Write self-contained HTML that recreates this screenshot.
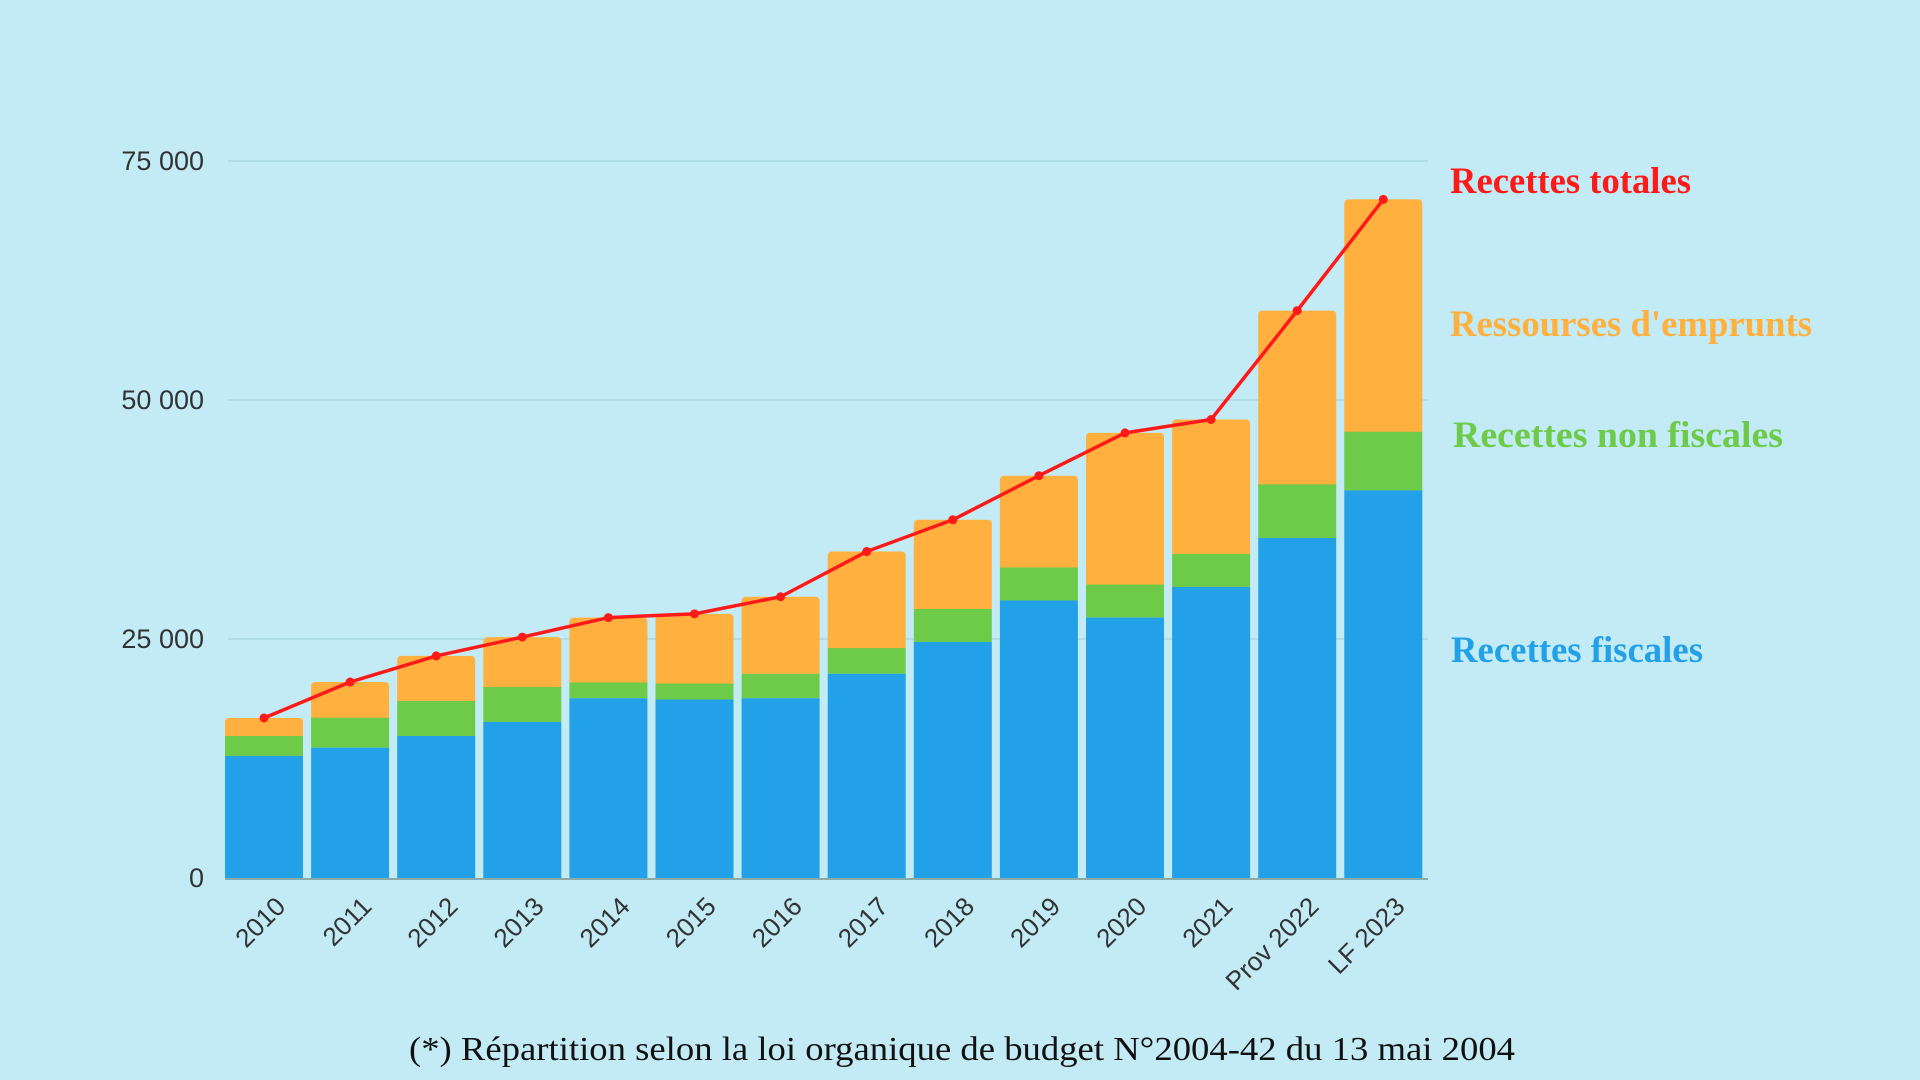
<!DOCTYPE html>
<html><head><meta charset="utf-8"><style>
html,body{margin:0;padding:0;background:#c2ebf5;}
svg{display:block;}
</style></head><body>
<svg id="chart" width="1920" height="1080" xmlns="http://www.w3.org/2000/svg">
<rect width="1920" height="1080" fill="#c2ebf5"/>
<g id="grid"></g>
<g id="bars"></g>
<g id="line"></g>
<g id="xlabels"></g>
<g id="ylabels"></g>
<g font-family="'Liberation Serif', serif" font-weight="bold" font-size="37">
<text x="1450" y="193" fill="#ff1a1a" textLength="241" lengthAdjust="spacingAndGlyphs">Recettes totales</text>
<text x="1450" y="336" fill="#ffb03f" textLength="362" lengthAdjust="spacingAndGlyphs">Ressourses d'emprunts</text>
<text x="1453" y="447" fill="#6ecb4a" textLength="330" lengthAdjust="spacingAndGlyphs">Recettes non  fiscales</text>
<text x="1451" y="662" fill="#22a0e8" textLength="252" lengthAdjust="spacingAndGlyphs">Recettes fiscales</text>
</g>
<text x="409" y="1060" font-family="'Liberation Serif', serif" font-size="34" fill="#111" textLength="1106" lengthAdjust="spacingAndGlyphs">(*) Répartition selon la loi organique de budget N°2004-42 du 13 mai 2004</text>
</svg>
<script>
const categories = ["2010","2011","2012","2013","2014","2015","2016","2017","2018","2019","2020","2021","Prov 2022","LF 2023"];
const fiscales = [12760,13630,14850,16320,18800,18670,18800,21360,24690,29030,27240,30440,35560,40540];
const nonFiscales = [2090,3140,3670,3660,1660,1670,2560,2690,3450,3460,3460,3450,5620,6140];
const emprunts = [1890,3730,4710,5220,6780,7290,8060,10100,9330,9590,15860,14070,18170,24300];
const totales = [16740,20500,23230,25200,27240,27630,29420,34150,37470,42080,46560,47960,59350,70980];
const yTicks = [0,25000,50000,75000];
const yTickLabels = ["0","25 000","50 000","75 000"];

const NS = "http://www.w3.org/2000/svg";
const y0 = 878, pxPer = 239/25000;
const left = 225, pitch = 86.1, bw = 78;
function yScale(v){ return y0 - v*pxPer; }
function xBand(i){ return left + i*pitch; }
function xCenter(i){ return xBand(i) + bw/2; }
function mk(tag, attrs, parent){ const e=document.createElementNS(NS,tag); for(const k in attrs) e.setAttribute(k,attrs[k]); parent.appendChild(e); return e; }

const grid=document.getElementById('grid');
yTicks.forEach((t,i)=>{
  if(i>0){
    const l=mk('line',{x1:228,x2:1428,y1:yScale(t),y2:yScale(t),stroke:'#a9d7e2','stroke-width':1.5},grid);
    
    
  }
  const tx=mk('text',{x:204,y:yScale(t)+9,'text-anchor':'end','font-family':"'Liberation Sans', sans-serif",'font-size':27,fill:'#333'},document.getElementById('ylabels'));
  tx.textContent=yTickLabels[i];
  
  
});
const ax=mk('line',{x1:225,x2:1428,y1:y0+1,y2:y0+1,stroke:'#8aa',"stroke-width":2},grid);



const bars=document.getElementById('bars');
categories.forEach((c,i)=>{
  const x=xBand(i);
  const yb=yScale(fiscales[i]), yg=yScale(fiscales[i]+nonFiscales[i]), yo=yScale(fiscales[i]+nonFiscales[i]+emprunts[i]);
  const o=mk('rect',{x:x,y:yo,width:bw,height:yg-yo+4,rx:4,fill:'#ffb03f'},bars);
  
  
  const g=mk('rect',{x:x,y:yg,width:bw,height:yb-yg,fill:'#6ecb4a'},bars);
  
  
  const b=mk('rect',{x:x,y:yb,width:bw,height:y0-yb,fill:'#22a0e8'},bars);
  
  
  const cx=xCenter(i)+23, cy=908;
  const t=mk('text',{x:cx,y:cy,'text-anchor':'end','font-family':"'Liberation Sans', sans-serif",'font-size':26,fill:'#333',transform:`rotate(-45 ${cx} ${cy})`},document.getElementById('xlabels'));
  t.textContent=c;
  
  
});

const lg=document.getElementById('line');
const pts=totales.map((v,i)=>xCenter(i)+','+yScale(v)).join(' ');
const pl=mk('polyline',{points:pts,fill:'none',stroke:'#ff1a1a','stroke-width':3.5,'stroke-linejoin':'round'},lg);


totales.forEach((v,i)=>{
  const d=mk('circle',{cx:xCenter(i),cy:yScale(v),r:4.5,fill:'#ff1a1a'},lg);
  
  
});
</script>
</body></html>
